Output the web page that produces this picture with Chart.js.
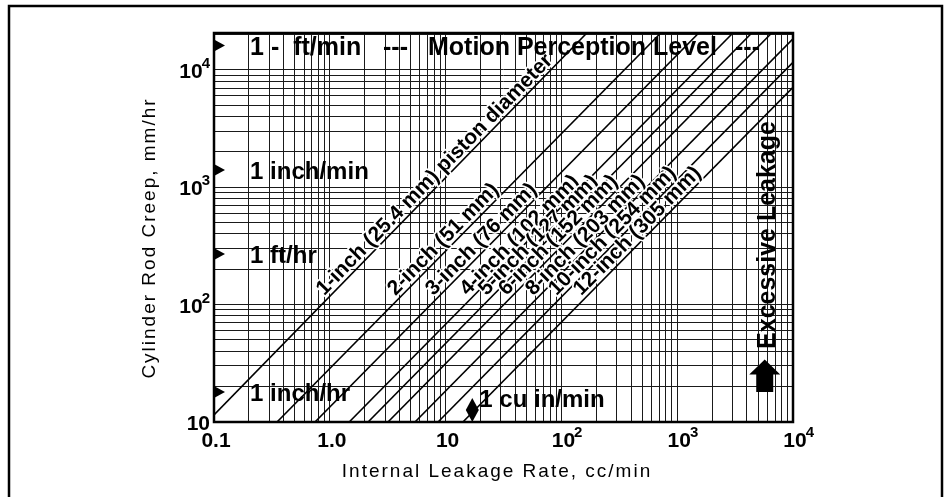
<!DOCTYPE html>
<html>
<head>
<meta charset="utf-8">
<script src="https://cdn.jsdelivr.net/npm/chart.js@4.4.1/dist/chart.umd.min.js"></script>
<style>
  html, body { margin: 0; padding: 0; background: #fff; }
  #wrap { width: 949px; height: 497px; }
</style>
</head>
<body>
<div id="wrap"><canvas id="creepChart" width="949" height="497"></canvas></div>
<script>
// --- podaci očitani sa slike ---
const xTickValues = [0.1, 1, 10, 100, 1000, 10000];
const xTickLabels = ['0.1', '1.0', '10', '10^2', '10^3', '10^4'];
const yTickValues = [10, 100, 1000, 10000];
const yTickLabels = ['10', '10^2', '10^3', '10^4'];

const pistonLabels = [
  '1-inch (25.4 mm) piston diameter',
  '2-inch (51 mm)',
  '3-inch (76 mm)',
  '4-inch (102 mm)',
  '5-inch (127 mm)',
  '6-inch (152 mm)',
  '8-inch (203 mm)',
  '10-inch (254 mm)',
  '12-inch (305 mm)'
];
const lineStartX = [0.1, 0.35, 0.745, 1.47, 2.14, 3.18, 5.44, 8.6, 14.1];
const lineStartY = [11.5, 10, 10, 10, 10, 10, 10, 10, 10];
const lineEndX = [166, 721, 1535, 3028, 4408, 6551, 10000, 10000, 10000];
const lineEndY = [20600, 20600, 20600, 20600, 20600, 20600, 18400, 11600, 7090];

// oznake brzina na lijevom rubu
const speedLabels = ['1 inch/min', '1 ft/hr', '1 inch/hr'];
const speedValues = [1400, 270, 18];
const motionSegments = ['1 -  ft/min', '---', 'Motion Perception Level', '---'];
const motionSegmentX = [0.205, 2.88, 7.05, 3155];
const motionLevel = 16100;

const cuInLabel = '1 cu in/min';
const cuInX = 17;
const excessLabel = 'Excessive Leakage';
const excessX = 5700;
const excessY = 392;

const X_MIN = 0.1, X_MAX = 10000, Y_MIN = 10, Y_MAX = 20600;
const FONT = '"Liberation Sans", Arial, sans-serif';

function gridValues(min, max) {
  const out = [];
  for (let e = Math.floor(Math.log10(min)); e <= Math.ceil(Math.log10(max)); e++) {
    for (let m = 1; m < 10; m++) {
      const v = +(m * Math.pow(10, e)).toPrecision(6);
      if (v >= min * 0.999 && v <= max * 1.001) out.push({ value: v });
    }
  }
  return out;
}

const datasets = pistonLabels.map((lbl, i) => ({
  label: lbl,
  data: [{ x: lineStartX[i], y: lineStartY[i] }, { x: lineEndX[i], y: lineEndY[i] }],
  borderColor: '#000',
  borderWidth: 1.6,
  pointRadius: 0,
  showLine: true,
  fill: false
}));

function drawPow(ctx, text, x, y, align) {
  const parts = text.split('^');
  ctx.font = 'bold 21px ' + FONT;
  const bw = ctx.measureText(parts[0]).width;
  ctx.font = 'bold 15px ' + FONT;
  const ew = parts[1] ? ctx.measureText(parts[1]).width : 0;
  let bx;
  if (align === 'center') bx = x - bw / 2;
  else bx = x - bw - (parts[1] ? ew - 1 : 0);
  ctx.textAlign = 'left';
  ctx.textBaseline = 'alphabetic';
  ctx.font = 'bold 21px ' + FONT;
  ctx.fillText(parts[0], bx, y);
  if (parts[1]) {
    ctx.font = 'bold 15px ' + FONT;
    ctx.fillText(parts[1], bx + bw - 1, y - 10);
  }
}

function rightTriangle(ctx, x, y) {
  ctx.beginPath();
  ctx.moveTo(x, y - 6);
  ctx.lineTo(x + 11, y);
  ctx.lineTo(x, y + 6);
  ctx.closePath();
  ctx.fill();
}

const decorPlugin = {
  id: 'decor',
  afterDatasetsDraw(chart) {
    const ctx = chart.ctx;
    const xs = chart.scales.x, ys = chart.scales.y;
    const area = chart.chartArea;
    ctx.save();

    // natpisi uz dijagonale
    ctx.font = 'bold 21px ' + FONT;
    ctx.textAlign = 'left';
    ctx.textBaseline = 'alphabetic';
    pistonLabels.forEach((lbl, i) => {
      const lx0 = Math.log10(lineStartX[i]), ly0 = Math.log10(lineStartY[i]);
      const lx1 = Math.log10(lineEndX[i]), ly1 = Math.log10(lineEndY[i]);
      const target = Math.log10(118);
      const t = (target - ly0) / (ly1 - ly0);
      const vx = Math.pow(10, lx0 + t * (lx1 - lx0));
      const px = xs.getPixelForValue(vx), py = ys.getPixelForValue(118);
      const p0x = xs.getPixelForValue(lineStartX[i]), p0y = ys.getPixelForValue(lineStartY[i]);
      const p1x = xs.getPixelForValue(lineEndX[i]), p1y = ys.getPixelForValue(lineEndY[i]);
      const ang = Math.atan2(p1y - p0y, p1x - p0x);
      ctx.save();
      ctx.translate(px, py);
      ctx.rotate(ang);
      ctx.lineWidth = 3.5;
      ctx.strokeStyle = '#fff';
      ctx.lineJoin = 'round';
      ctx.strokeText(lbl, -4, -4);
      ctx.fillStyle = '#000';
      ctx.fillText(lbl, -4, -4);
      ctx.restore();
    });

    // okvir grafikona
    ctx.strokeStyle = '#000';
    ctx.lineWidth = 2.5;
    ctx.strokeRect(area.left, area.top, area.right - area.left, area.bottom - area.top);

    // oznake brzina
    ctx.fillStyle = '#000';
    ctx.font = 'bold 24px ' + FONT;
    ctx.textAlign = 'left';
    ctx.textBaseline = 'alphabetic';
    speedLabels.forEach((lbl, i) => {
      const py = ys.getPixelForValue(speedValues[i]);
      rightTriangle(ctx, area.left, py);
      ctx.fillText(lbl, xs.getPixelForValue(0.205), py + 9);
    });
    const my = ys.getPixelForValue(motionLevel);
    rightTriangle(ctx, area.left, my);
    ctx.font = 'bold 25px ' + FONT;
    motionSegments.forEach((s, i) => {
      ctx.fillText(s, xs.getPixelForValue(motionSegmentX[i]), my + 9.5);
    });

    // 1 cu in/min
    const cx = xs.getPixelForValue(cuInX), cb = ys.getPixelForValue(Y_MIN);
    ctx.beginPath();
    ctx.moveTo(cx, cb - 24);
    ctx.lineTo(cx + 6.5, cb - 12);
    ctx.lineTo(cx, cb);
    ctx.lineTo(cx - 6.5, cb - 12);
    ctx.closePath();
    ctx.fill();
    ctx.font = 'bold 24px ' + FONT;
    ctx.fillText(cuInLabel, cx + 7, cb - 15);

    // Excessive Leakage
    const ex = xs.getPixelForValue(excessX);
    ctx.save();
    ctx.translate(ex + 3, ys.getPixelForValue(excessY));
    ctx.rotate(-Math.PI / 2);
    ctx.font = 'bold 25px ' + FONT;
    ctx.textAlign = 'center';
    ctx.textBaseline = 'middle';
    ctx.fillText(excessLabel, 0, 0);
    ctx.restore();
    const tipY = ys.getPixelForValue(34), baseY = ys.getPixelForValue(18);
    ctx.beginPath();
    ctx.moveTo(ex, tipY);
    ctx.lineTo(ex + 15.5, tipY + 15);
    ctx.lineTo(ex + 8.5, tipY + 15);
    ctx.lineTo(ex + 8.5, baseY);
    ctx.lineTo(ex - 8.5, baseY);
    ctx.lineTo(ex - 8.5, tipY + 15);
    ctx.lineTo(ex - 15.5, tipY + 15);
    ctx.closePath();
    ctx.fill();

    // oznake osi
    xTickValues.forEach((v, i) => {
      drawPow(ctx, xTickLabels[i], xs.getPixelForValue(v) + 2, area.bottom + 25, 'center');
    });
    yTickValues.forEach((v, i) => {
      drawPow(ctx, yTickLabels[i], area.left - 4, ys.getPixelForValue(v) + 8, 'right');
    });

    // naslovi osi
    ctx.font = '19px ' + FONT;
    ctx.letterSpacing = '2px';
    ctx.textAlign = 'center';
    ctx.textBaseline = 'alphabetic';
    ctx.fillText('Internal Leakage Rate, cc/min', 497, 477);
    ctx.save();
    ctx.translate(155, 238);
    ctx.rotate(-Math.PI / 2);
    ctx.fillText('Cylinder Rod Creep, mm/hr', 0, 0);
    ctx.restore();
    ctx.letterSpacing = '0px';

    // vanjski okvir
    ctx.lineWidth = 2.5;
    ctx.strokeRect(9, 6, 933, 520);
    ctx.restore();
  }
};

const gridStyle = { color: '#1a1a1a', lineWidth: 1, drawTicks: false };

new Chart(document.getElementById('creepChart').getContext('2d'), {
  type: 'scatter',
  data: { datasets },
  options: {
    responsive: false,
    animation: false,
    events: [],
    layout: { padding: { left: 0, top: 33, right: 156, bottom: 0 } },
    plugins: { legend: { display: false }, tooltip: { enabled: false } },
    scales: {
      x: {
        type: 'logarithmic',
        min: X_MIN, max: X_MAX,
        grid: gridStyle,
        border: { display: false },
        ticks: { display: false, autoSkip: false },
        afterBuildTicks: s => { s.ticks = gridValues(X_MIN, X_MAX); },
        afterFit: s => { s.height = 75; }
      },
      y: {
        type: 'logarithmic',
        min: Y_MIN, max: Y_MAX,
        grid: gridStyle,
        border: { display: false },
        ticks: { display: false, autoSkip: false },
        afterBuildTicks: s => { s.ticks = gridValues(Y_MIN, Y_MAX); },
        afterFit: s => { s.width = 214; }
      }
    }
  },
  plugins: [decorPlugin]
});
</script>
</body>
</html>
